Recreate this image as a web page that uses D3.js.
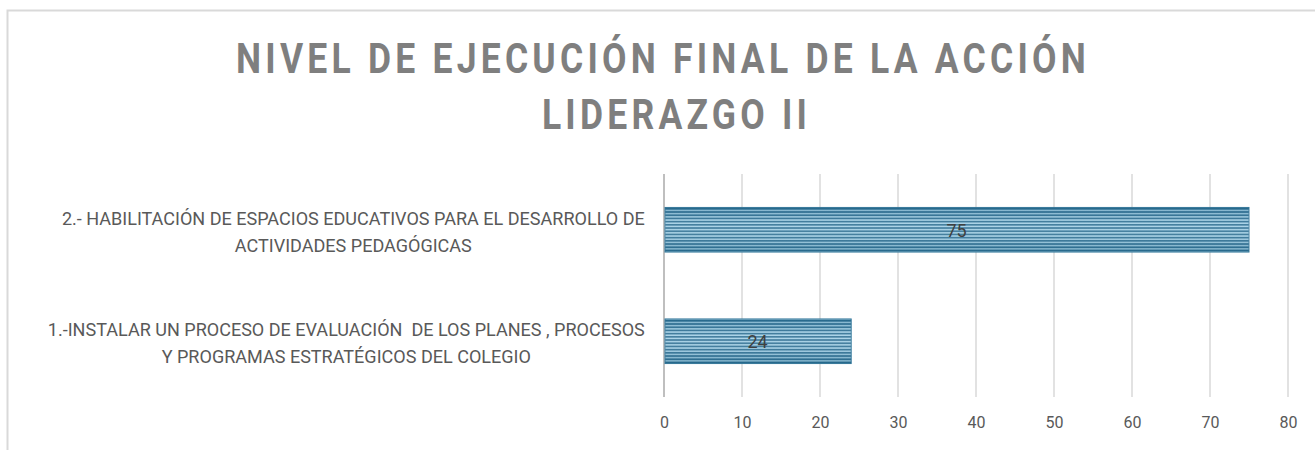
<!DOCTYPE html>
<html>
<head>
    <meta charset="utf-8">
    <style>
        body { margin: 0; background: white; }
        svg { display: block; }
        .tick text { font-family: Roboto, 'Liberation Sans', sans-serif; }
    </style>
</head>
<body>
<svg width="1315" height="450"></svg>

<script src="https://d3js.org/d3.v7.min.js"></script>
<script>
    // data
    let categories = [
        ["2.- HABILITACIÓN DE ESPACIOS EDUCATIVOS PARA EL DESARROLLO DE", "ACTIVIDADES PEDAGÓGICAS"],
        ["1.-INSTALAR UN PROCESO DE EVALUACIÓN  DE LOS PLANES , PROCESOS", "Y PROGRAMAS ESTRATÉGICOS DEL COLEGIO"]
    ]
    let values = [75, 24]
    let xTicks = [0, 10, 20, 30, 40, 50, 60, 70, 80]
    let titleLines = ["NIVEL DE EJECUCIÓN FINAL DE LA ACCIÓN", "LIDERAZGO II"]

    let svg = d3.select("svg")
    let margin = {left: 664, right: 27, top: 174, bottom: 53}
    let width = 1315, height = 450
    let narrow = 0.95   // squeeze to imitate the narrow font

    // chart border (runs off the right and bottom)
    svg.append("rect")
        .attr("x", 7.5).attr("y", 10.5)
        .attr("width", 1400).attr("height", 600)
        .attr("fill", "none")
        .attr("stroke", "#d9d9d9")
        .attr("stroke-width", 2)

    // title
    svg.append("g")
        .attr("transform", `translate(663,0) scale(0.845,1)`)
        .selectAll("text")
        .data(titleLines)
        .join("text")
        .attr("x", (d, i) => i * 16)
        .attr("y", (d, i) => 73 + i * 56)
        .attr("text-anchor", "middle")
        .attr("font-family", "Roboto, 'Liberation Sans', sans-serif")
        .attr("font-weight", "bold")
        .attr("font-size", 42)
        .attr("letter-spacing", 5)
        .attr("fill", "#7f7f7f")
        .text(d => d)

    let x = d3.scaleLinear()
        .domain([0, 80])
        .range([margin.left, width - margin.right])

    let y = d3.scaleBand()
        .domain(d3.range(categories.length))
        .range([margin.top, height - margin.bottom])
        .paddingInner(0.6)
        .paddingOuter(0.3)

    // gridlines
    svg.append("g")
        .selectAll("line")
        .data(xTicks)
        .join("line")
        .attr("x1", d => x(d)).attr("x2", d => x(d))
        .attr("y1", margin.top).attr("y2", height - margin.bottom)
        .attr("stroke", d => d === 0 ? "#bfbfbf" : "#d9d9d9")
        .attr("stroke-width", d => d === 0 ? 2 : 1.5)

    // x axis labels
    let xAxis = d3.axisBottom(x).tickValues(xTicks).tickSize(0).tickPadding(20)
    svg.append("g")
        .attr("transform", `translate(0,${height - margin.bottom})`)
        .call(xAxis)
        .call(g => g.select(".domain").remove())
        .call(g => g.selectAll("text")
            .attr("font-size", 16)
            .attr("fill", "#595959"))

    // striped fill
    let defs = svg.append("defs")
    let pat = defs.append("pattern")
        .attr("id", "stripes")
        .attr("patternUnits", "userSpaceOnUse")
        .attr("width", 10).attr("height", 3.2)
    pat.append("rect").attr("width", 10).attr("height", 3.2).attr("fill", "#a4d2e8")
    pat.append("rect").attr("width", 10).attr("height", 1.7).attr("fill", "#286c91")

    let grad = defs.append("linearGradient")
        .attr("id", "shade")
        .attr("x1", 0).attr("y1", 0).attr("x2", 0).attr("y2", 1)
    grad.append("stop").attr("offset", "0%").attr("stop-color", "#1a5878").attr("stop-opacity", 0.25)
    grad.append("stop").attr("offset", "45%").attr("stop-color", "#ffffff").attr("stop-opacity", 0.15)
    grad.append("stop").attr("offset", "100%").attr("stop-color", "#1a5878").attr("stop-opacity", 0.3)

    let bars = svg.append("g")
    bars.selectAll("rect.bar")
        .data(values)
        .join("rect")
        .attr("class", "bar")
        .attr("x", x(0) + 1)
        .attr("y", (d, i) => y(i))
        .attr("width", d => x(d) - x(0) - 1)
        .attr("height", y.bandwidth())
        .attr("fill", "url(#stripes)")
        .attr("stroke", "#3a7c9e")
        .attr("stroke-width", 1)
    bars.selectAll("rect.shade")
        .data(values)
        .join("rect")
        .attr("class", "shade")
        .attr("x", x(0) + 1)
        .attr("y", (d, i) => y(i))
        .attr("width", d => x(d) - x(0) - 1)
        .attr("height", y.bandwidth())
        .attr("fill", "url(#shade)")

    // value labels
    svg.append("g").selectAll("text")
        .data(values)
        .join("text")
        .attr("x", d => (x(0) + x(d)) / 2)
        .attr("y", (d, i) => y(i) + y.bandwidth() / 2 + 7)
        .attr("text-anchor", "middle")
        .attr("font-family", "Roboto, 'Liberation Sans', sans-serif")
        .attr("font-size", 18)
        .attr("fill", "#404040")
        .text(d => d)

    // category labels, lines centred on each other, block ends right before the axis
    let labels = svg.append("g").selectAll("g")
        .data(categories)
        .join("g")

    labels.each(function (lines, i) {
        let g = d3.select(this)
        let cy = y(i) + y.bandwidth() / 2
        let t = g.append("text")
            .attr("text-anchor", "middle")
            .attr("font-family", "Roboto, 'Liberation Sans', sans-serif")
            .attr("font-size", 19)
            .attr("fill", "#595959")
            .style("white-space", "pre")
        t.selectAll("tspan")
            .data(lines)
            .join("tspan")
            .attr("x", 0)
            .attr("y", (d, j) => cy - 5 + j * 27)
            .text(d => d)
        let w = d3.max(t.selectAll("tspan").nodes(), n => n.getComputedTextLength()) * narrow
        g.attr("transform", `translate(${645 - w / 2},0) scale(${narrow},1)`)
    })
</script>
</body>
</html>
